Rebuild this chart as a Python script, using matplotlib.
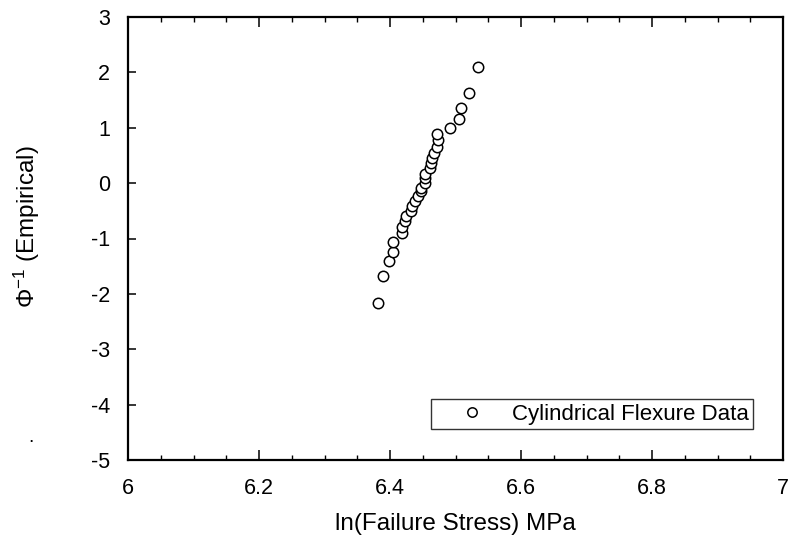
import matplotlib
matplotlib.use("Agg")
import matplotlib.pyplot as plt
from matplotlib.ticker import MultipleLocator, FixedLocator

plt.rcParams['font.family'] = ['Liberation Sans', 'DejaVu Sans']
plt.rcParams['mathtext.fontset'] = 'custom'
plt.rcParams['mathtext.rm'] = 'Liberation Sans'
plt.rcParams['mathtext.it'] = 'Liberation Sans'

# data: ln(failure stress) vs inverse normal of empirical probability
ln_stress = [6.381, 6.390, 6.399, 6.404, 6.404, 6.418, 6.418, 6.423, 6.425, 6.432,
             6.433, 6.438, 6.443, 6.448, 6.448, 6.453, 6.454, 6.454, 6.461, 6.463,
             6.464, 6.467, 6.471, 6.473, 6.472, 6.492, 6.506, 6.508, 6.521, 6.535]
phi_inv = [-2.16, -1.68, -1.40, -1.24, -1.07, -0.90, -0.79, -0.69, -0.60, -0.50,
           -0.41, -0.33, -0.24, -0.15, -0.08, 0.00, 0.09, 0.17, 0.27, 0.36,
           0.45, 0.55, 0.66, 0.78, 0.88, 1.00, 1.15, 1.35, 1.62, 2.09]

x_ticks = [6, 6.2, 6.4, 6.6, 6.8, 7]
x_tick_labels = ['6', '6.2', '6.4', '6.6', '6.8', '7']
y_ticks = [-5, -4, -3, -2, -1, 0, 1, 2, 3]
y_tick_labels = ['-5', '-4', '-3', '-2', '-1', '0', '1', '2', '3']
series_label = 'Cylindrical Flexure Data'

W, H = 789, 543
fig = plt.figure(figsize=(W / 100, H / 100), dpi=100)
ax = fig.add_axes([128 / W, (H - 460) / H, (783 - 128) / W, (460 - 17) / H])

ax.plot(ln_stress, phi_inv, linestyle='none', marker='o', markersize=7.5,
        markerfacecolor='white', markeredgecolor='black', markeredgewidth=1.1,
        label=series_label)

ax.set_xlim(6, 7)
ax.set_ylim(-5, 3)
ax.xaxis.set_major_locator(FixedLocator(x_ticks))
ax.set_xticklabels(x_tick_labels)
ax.xaxis.set_minor_locator(MultipleLocator(0.05))
ax.yaxis.set_major_locator(FixedLocator(y_ticks))
ax.set_yticklabels(y_tick_labels)

for s in ax.spines.values():
    s.set_linewidth(1.6)

ax.tick_params(axis='x', which='major', direction='in', length=7, width=1.1,
               top=True, bottom=True, labelsize=15.5, pad=13)
ax.tick_params(axis='x', which='minor', direction='in', length=3.5, width=1.0,
               top=True, bottom=True)
ax.tick_params(axis='y', which='major', direction='in', length=6, width=1.1,
               left=True, right=False, labelsize=15.5, pad=13)

ax.set_xlabel('ln(Failure Stress) MPa', fontsize=17.5, labelpad=10)
ax.set_ylabel(r'$\Phi^{-1}$ (Empirical)', fontsize=17.5)
ax.yaxis.set_label_coords((42 - 128) / 655, (460 - 227) / 443)

leg = ax.legend(loc='lower right', bbox_to_anchor=((753 - 128) / 655, (460 - 429) / 443),
                borderaxespad=0, fontsize=16, frameon=True, fancybox=False,
                edgecolor='black', borderpad=0.2, handlelength=3.3,
                handletextpad=0.15, markerscale=0.9)
leg.get_frame().set_linewidth(1.0)

fig.text(31 / W, (H - 437) / H, '.', fontsize=14, ha='center', va='center')

fig.savefig('out.png', dpi=100)
